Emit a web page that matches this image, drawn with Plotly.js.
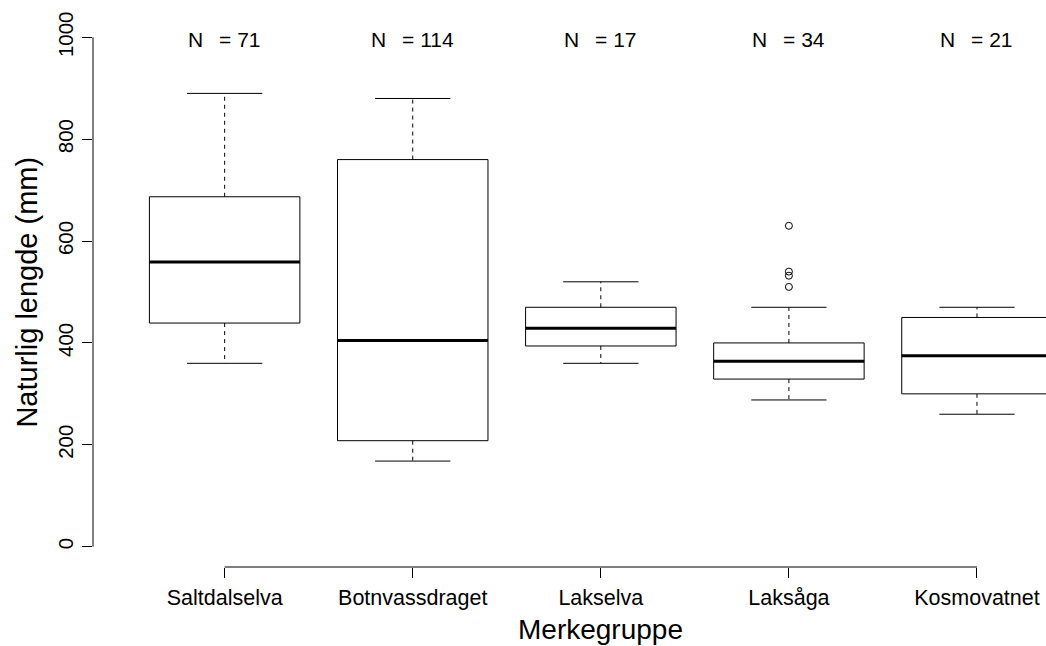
<!DOCTYPE html>
<html>
<head>
<meta charset="utf-8">
<script src="https://cdn.plot.ly/plotly-3.0.1.min.js"></script>
<style>html,body{margin:0;padding:0;background:#fff;}#chart{width:1046px;height:646px;}</style>
</head>
<body>
<div id="chart"></div>
<script>
// ---- data ----
const groups = ['Saltdalselva', 'Botnvassdraget', 'Lakselva', 'Laksåga', 'Kosmovatnet'];
const counts = [71, 114, 17, 34, 21];
const lowerWhisker = [360, 168, 360, 288, 260];
const q1 = [439, 208, 394, 329, 300];
const median = [559, 405, 429, 364, 375];
const q3 = [687, 760, 470, 400, 450];
const upperWhisker = [890, 880, 520, 470, 470];
const outlierGroup = [4, 4, 4, 4];
const outlierValue = [630, 540, 532, 510];
const yTicks = [0, 200, 400, 600, 800, 1000];

// ---- build traces ----
const pos = groups.map((g, i) => i + 1);
const half = 0.4, capHalf = 0.2;
const boxX = [], boxY = [], medX = [], medY = [], whX = [], whY = [], capX = [], capY = [];
pos.forEach((p, i) => {
  boxX.push(p - half, p + half, p + half, p - half, p - half, null);
  boxY.push(q1[i], q1[i], q3[i], q3[i], q1[i], null);
  medX.push(p - half, p + half, null);
  medY.push(median[i], median[i], null);
  whX.push(p, p, null, p, p, null);
  whY.push(q3[i], upperWhisker[i], null, q1[i], lowerWhisker[i], null);
  capX.push(p - capHalf, p + capHalf, null, p - capHalf, p + capHalf, null);
  capY.push(upperWhisker[i], upperWhisker[i], null, lowerWhisker[i], lowerWhisker[i], null);
});

const black = '#000000';
const traces = [
  {type: 'scatter', mode: 'lines', x: boxX, y: boxY, line: {color: black, width: 1}, hoverinfo: 'skip'},
  {type: 'scatter', mode: 'lines', x: whX, y: whY, line: {color: black, width: 1, dash: '4px,4px'}, hoverinfo: 'skip'},
  {type: 'scatter', mode: 'lines', x: capX, y: capY, line: {color: black, width: 1}, hoverinfo: 'skip'},
  {type: 'scatter', mode: 'lines', x: medX, y: medY, line: {color: black, width: 3}, hoverinfo: 'skip'},
  {type: 'scatter', mode: 'markers', x: outlierGroup, y: outlierValue,
   marker: {symbol: 'circle-open', size: 7, color: black, line: {width: 1, color: black}}, hoverinfo: 'skip'}
];

const font = 'Liberation Sans, Arial, sans-serif';
const annotations = pos.map((p, i) => ({
  x: p, y: 1000, xref: 'x', yref: 'y', yshift: -2, text: 'N\u00a0\u00a0\u2009= ' + counts[i], showarrow: false,
  xanchor: 'center', yanchor: 'middle', font: {family: font, size: 21, color: black}
}));
annotations.push({
  x: 3, xref: 'x', y: -0.1135, yref: 'paper', text: 'Merkegruppe', showarrow: false,
  xanchor: 'center', yanchor: 'middle', font: {family: font, size: 28, color: black}
});
annotations.push({
  x: -0.0697, xref: 'paper', y: 0.5, yref: 'paper', text: 'Naturlig lengde (mm)', showarrow: false,
  textangle: -90, xanchor: 'center', yanchor: 'middle', font: {family: font, size: 29, color: black}
});

const layout = {
  width: 1046, height: 646,
  margin: {l: 93.4, r: 0, t: 16.6, b: 78.6, pad: 0},
  paper_bgcolor: '#ffffff', plot_bgcolor: '#ffffff',
  showlegend: false,
  font: {family: font, color: black},
  xaxis: {
    range: [0.3, 5.367], tickmode: 'array', tickvals: pos, ticktext: groups,
    ticks: 'outside', ticklen: 10, tickwidth: 1, tickcolor: black, ticklabelstandoff: 1,
    showgrid: false, zeroline: false, showline: false,
    tickfont: {family: font, size: 21.5, color: black}, fixedrange: true
  },
  yaxis: {
    range: [-40, 1040], tickmode: 'array', tickvals: yTicks, ticktext: yTicks.map(String),
    ticks: 'outside', ticklen: 10, tickwidth: 1, tickcolor: black, tickangle: -90, ticklabelstandoff: 1,
    showgrid: false, zeroline: false, showline: false,
    tickfont: {family: font, size: 20.5, color: black}, fixedrange: true
  },
  shapes: [
    {type: 'line', xref: 'paper', yref: 'y', x0: 0, x1: 0, y0: yTicks[0], y1: yTicks[yTicks.length - 1], line: {color: black, width: 1}},
    {type: 'line', xref: 'x', yref: 'paper', x0: pos[0], x1: pos[pos.length - 1], y0: 0, y1: 0, line: {color: black, width: 1}}
  ],
  annotations: annotations
};

Plotly.newPlot('chart', traces, layout, {displayModeBar: false, staticPlot: true});
</script>
</body>
</html>
